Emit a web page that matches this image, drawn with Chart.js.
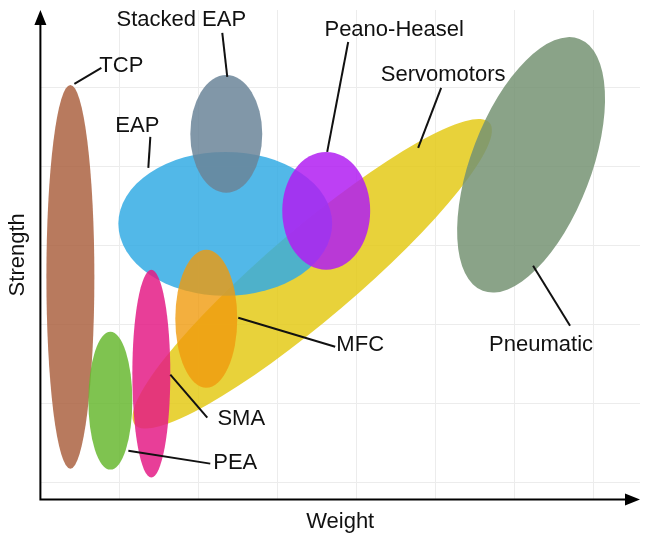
<!DOCTYPE html>
<html>
<head>
<meta charset="utf-8">
<script src="https://cdn.jsdelivr.net/npm/chart.js@4.4.0/dist/chart.umd.min.js"></script>
<style>
  html, body { margin: 0; padding: 0; background: #fff; }
  #wrap { width: 645px; height: 535px; }
</style>
</head>
<body>
<div id="wrap"><canvas id="chart"></canvas></div>
<script>
// actuator families, drawn in this order (later ones on top)
const names   = ['Servomotors', 'EAP', 'Stacked EAP', 'Peano-Heasel', 'MFC', 'TCP', 'PEA', 'SMA', 'Pneumatic'];
// ellipse centres (weight, strength) and semi-axes, in axis units
const centerX = [272, 185, 186, 286, 166, 30, 70, 111, 491];
const centerY = [209, 259, 349, 272, 164, 206, 82, 109, 318];
const radiusX = [233, 107, 36, 44, 31, 24, 22, 19, 60];
const radiusY = [45, 72, 59, 59, 69, 192, 69, 104, 135];
const tiltDeg = [-40.4, 0, 0, 0, 0, 0, 0, 0, 21];
const colors  = [
  'rgba(228,202,23,0.85)',
  'rgba(52,172,228,0.85)',
  'rgba(107,133,153,0.85)',
  'rgba(178,30,242,0.85)',
  'rgba(240,155,14,0.8)',
  'rgba(171,99,66,0.85)',
  'rgba(105,184,49,0.85)',
  'rgba(228,28,134,0.85)',
  'rgba(117,147,115,0.85)'
];

// callout text position and leader line (from -> to), axis units
const callouts = [
  { text: 'TCP',          tx: 81,  ty: 417, x1: 34,  y1: 399, x2: 61,  y2: 415 },
  { text: 'Stacked EAP',  tx: 141, ty: 463, x1: 182, y1: 450, x2: 187, y2: 406 },
  { text: 'EAP',          tx: 97,  ty: 357, x1: 110, y1: 346, x2: 108, y2: 315 },
  { text: 'Peano-Heasel', tx: 354, ty: 453, x1: 308, y1: 441, x2: 287, y2: 331 },
  { text: 'Servomotors',  tx: 403, ty: 408, x1: 401, y1: 395, x2: 378, y2: 335 },
  { text: 'MFC',          tx: 320, ty: 138, x1: 198, y1: 165, x2: 295, y2: 136 },
  { text: 'Pneumatic',    tx: 501, ty: 138, x1: 493, y1: 217, x2: 530, y2: 157 },
  { text: 'SMA',          tx: 201, ty: 64,  x1: 130, y1: 108, x2: 167, y2: 65 },
  { text: 'PEA',          tx: 195, ty: 20,  x1: 88,  y1: 32,  x2: 170, y2: 19 }
];

const FONT = '"Liberation Sans", Arial, sans-serif';

const ellipsePlugin = {
  id: 'ellipses',
  beforeDatasetsDraw(chart) {
    const { ctx, scales: { x, y } } = chart;
    ctx.save();
    for (let i = 0; i < names.length; i++) {
      const px = x.getPixelForValue(centerX[i]);
      const py = y.getPixelForValue(centerY[i]);
      const rx = Math.abs(x.getPixelForValue(centerX[i] + radiusX[i]) - px);
      const ry = Math.abs(y.getPixelForValue(centerY[i] + radiusY[i]) - py);
      ctx.beginPath();
      ctx.ellipse(px, py, rx, ry, tiltDeg[i] * Math.PI / 180, 0, Math.PI * 2);
      ctx.fillStyle = colors[i];
      ctx.fill();
    }
    ctx.restore();
  },
  afterDatasetsDraw(chart) {
    const { ctx, chartArea: a, scales: { x, y } } = chart;
    ctx.save();
    // axes with arrow heads
    ctx.strokeStyle = '#000';
    ctx.fillStyle = '#000';
    ctx.lineWidth = 2;
    ctx.beginPath();
    ctx.moveTo(a.left, a.top + 10);
    ctx.lineTo(a.left, a.bottom);
    ctx.lineTo(a.right - 10, a.bottom);
    ctx.stroke();
    ctx.beginPath();
    ctx.moveTo(a.left, a.top);
    ctx.lineTo(a.left - 6, a.top + 15);
    ctx.lineTo(a.left + 6, a.top + 15);
    ctx.closePath();
    ctx.fill();
    ctx.beginPath();
    ctx.moveTo(a.right, a.bottom);
    ctx.lineTo(a.right - 15, a.bottom - 6);
    ctx.lineTo(a.right - 15, a.bottom + 6);
    ctx.closePath();
    ctx.fill();

    // callouts
    ctx.lineWidth = 2;
    ctx.strokeStyle = '#111';
    ctx.fillStyle = '#111';
    ctx.font = '22px ' + FONT;
    ctx.textAlign = 'center';
    ctx.textBaseline = 'middle';
    callouts.forEach(c => {
      ctx.beginPath();
      ctx.moveTo(x.getPixelForValue(c.x1), y.getPixelForValue(c.y1));
      ctx.lineTo(x.getPixelForValue(c.x2), y.getPixelForValue(c.y2));
      ctx.stroke();
      ctx.fillText(c.text, x.getPixelForValue(c.tx), y.getPixelForValue(c.ty));
    });
    ctx.restore();
  }
};

new Chart(document.getElementById('chart'), {
  type: 'scatter',
  data: {
    datasets: [{
      label: 'centres',
      data: centerX.map((v, i) => ({ x: v, y: centerY[i] })),
      pointRadius: 0
    }]
  },
  options: {
    responsive: true,
    maintainAspectRatio: false,
    animation: false,
    events: [],
    layout: { padding: { left: 5, right: 5, top: 10, bottom: 0 } },
    plugins: { legend: { display: false }, tooltip: { enabled: false } },
    scales: {
      x: {
        type: 'linear',
        min: 0,
        max: 600,
        border: { display: false },
        grid: {
          drawTicks: false,
          color: ctx => (ctx.tick && ctx.tick.value % 79 === 0 && ctx.tick.value > 0) ? '#ececec' : 'rgba(0,0,0,0)'
        },
        ticks: { display: false, stepSize: 79 },
        title: { display: true, text: 'Weight', color: '#111', font: { family: FONT, size: 22 }, padding: { top: 9, bottom: 0 } }
      },
      y: {
        type: 'linear',
        min: -17,
        max: 473,
        border: { display: false },
        grid: {
          drawTicks: false,
          color: ctx => (ctx.tick && ctx.tick.value >= 0 && ctx.tick.value % 79 === 0) ? '#ececec' : 'rgba(0,0,0,0)'
        },
        ticks: { display: false, stepSize: 79 },
        title: { display: true, text: 'Strength', color: '#111', font: { family: FONT, size: 22 }, padding: { top: 0, bottom: 9 } }
      }
    }
  },
  plugins: [ellipsePlugin]
});
</script>
</body>
</html>
